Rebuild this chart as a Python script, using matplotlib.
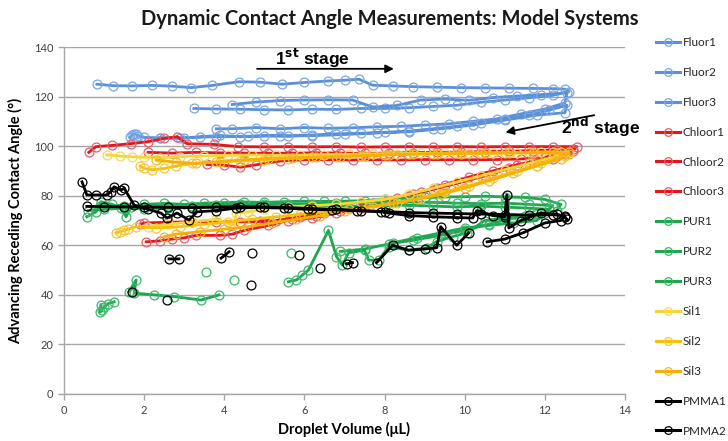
import numpy as np
import matplotlib
matplotlib.use("Agg")
import matplotlib.pyplot as plt
from matplotlib.lines import Line2D

nan = np.nan

# ---------------- data ----------------
fluor1_x = [0.82, 1.22, 1.7, 2.2, 2.7, 3.17, 3.7, 4.37, 4.9, 5.45, 6.0, 6.6, 7.0, 7.36, 7.7, 8.2, 8.7, 9.3, 9.9, 10.5, 11.1, 11.7, 12.2, 12.5,
            12.6, 12.2, 11.6, 11.0, 10.4, 9.8, 9.2, 8.6, 8.0, 7.4, 6.8, 6.2, 5.6, 5.0, 4.4, 3.8, 3.24]
fluor1_y = [125, 124.4, 124.3, 124.5, 124.2, 123.6, 124.5, 126, 125.8, 125, 125.7, 126.3, 126.6, 127, 124.6, 124.3, 124, 123.8, 123.6, 123.5, 123.4, 123.3, 123.2, 123,
            122, 120.5, 119.5, 118.6, 117.7, 116.5, 116, 115.5, 115.2, 115.2, 114.8, 114.9, 114.6, 114.7, 114.9, 115.0, 115.2]

fluor2_x = [4.2, 4.8, 5.4, 6.0, 6.6, 7.2, 7.7, 8.3, 8.9, 9.5, 10.1, 10.7, 11.3, 11.9, 12.55,
            12.5, 12.0, 11.4, 10.8, 10.2, 9.6, 9.0, 8.4, 7.8, 7.2, 6.6, 6.0, 5.4, 4.8, 4.2, 3.8]
fluor2_y = [116.8, 117.8, 118.4, 118.6, 118.7, 118.6, 115.8, 116.4, 118.6, 119, 118.5, 119.6, 120.2, 120.8, 121.5,
            117.4, 115, 113, 111, 110, 109, 108.5, 108, 107.8, 107.4, 107.2, 107.5, 107, 107.5, 107, 107]

fluor3_x = [1.65, 1.7, 1.75, 1.8, 1.85, 2.0, 2.4, 2.9, 3.4, 3.9, 4.4, 5.0, 5.6, 6.2, 6.8, 7.4, 8.0, 8.6, 9.2, 9.8, 10.4, 11.0, 11.6, 12.1, 12.55,
            12.5, 11.8, 11.0, 10.2, 9.4, 8.6, 7.8, 7.0, 6.2, 5.4, 4.6, 3.8, 3.0, 2.4]
fluor3_y = [103.5, 104.5, 105, 104.8, 104.2, 103.5, 103.4, 103.2, 103.8, 104.3, 103.8, 104.2, 104.0, 104.5, 105, 105.2, 105.6, 106, 107, 108, 109.5, 111, 112.5, 114.5, 116.5,
            113.5, 112.5, 110.5, 108.5, 107, 105.8, 105.3, 104.7, 104.2, 104.2, 104.0, 103.8, 103.4, 103.2]

chloor1_x = [0.62, 0.8, 1.2, 1.67, 2.1, 2.5, 2.82, 3.07, 3.74, 4.35, 5.0, 5.6, 6.2, 6.8, 7.4, 8.0, 8.6, 9.2, 9.8, 10.4, 11.0, 11.6, 12.2, 12.8,
             12.7, 12.2, 11.6, 11.0, 10.4, 9.8, 9.2, 8.6, 8.0, 7.4, 6.8, 6.2, 5.6, 5.0, 4.4, 3.8, 3.2, 2.6, 2.0, 1.9]
chloor1_y = [97.5, 99.8, 100.3, 101, 101.8, 103.1, 103.8, 101, 100.7, 99.8, 99.7, 99.8, 99.7, 99.8, 99.6, 99.7, 99.8, 99.7, 99.8, 99.7, 99.8, 99.8, 99.8, 99.8,
             98, 95, 93, 90.5, 88, 85, 82.5, 80, 77.5, 75, 73, 71, 70, 69.5, 69.5, 69.5, 69.5, 69.3, 69.0, 68.5]

chloor2_x = [3.57, 4.0, 4.4, 4.8, 5.4, 6.0, 6.6, 7.2, 7.8, 8.4, 9.0, 9.6, 10.2, 10.8, 11.4, 12.0, 12.55,
             12.3, 11.7, 11.1, 10.5, 9.9, 9.3, 8.7, 8.1, 7.5, 6.9, 6.3, 5.7, 5.1, 4.5, 4.2, 3.9, 3.3, 3.0, 2.7, 2.4, 2.05]
chloor2_y = [92.6, 92.3, 91.5, 92.5, 94, 94.5, 94.5, 94.4, 94.5, 94.4, 94.6, 94.5, 94.5, 94.6, 94.8, 95.5, 97.5,
             96, 93.5, 91, 88, 85.5, 83, 80.5, 78, 76, 74, 72, 70.5, 68, 66, 64.5, 64, 64, 63, 62.5, 61.8, 61.4]

chloor3_x = [2.1, 2.7, 3.3, 3.9, 4.5, 5.1, 5.7, 6.3, 6.9, 7.5, 8.1, 8.7, 9.3, 9.9, 10.5, 11.1, 11.7, 12.3, 12.7,
             12.5, 11.9, 11.3, 10.7, 10.1, 9.5, 8.9, 8.3, 7.7, 7.1, 6.5, 5.9, 5.3, 4.9]
chloor3_y = [97.5, 97.2, 97.5, 97.3, 97.2, 97.1, 97.2, 97.3, 97.2, 97.1, 97.2, 97.4, 97.5, 97.6, 97.8, 98, 98.2, 98.5, 98.8,
             97, 94.4, 92.5, 90, 87.5, 84.5, 81.5, 79, 77, 75, 73, 71.5, 70, 70]

pur1_x = [0.57, 0.8, 0.92, 1.2, 1.42, 1.55, 1.67, 2.0, 2.5, 3.0, 3.5, 4.0, 4.5, 5.0, 5.5, 6.0, 6.5, 7.0, 7.5, 8.0, 8.5, 9.0, 9.5, 10.0, 10.5, 11.0, 11.5, 12.0, 12.4,
          12.3, 11.8, 11.2, 10.6, 10.0, 9.4, 8.7, 8.1, 7.5, 6.9]
pur1_y = [71.5, 73.5, 77.6, 76.5, 74.9, 71.5, 75.5, 76.5, 76.9, 76.5, 77, 77.2, 77.5, 77.3, 77.6, 77.8, 77.7, 77.8, 78, 78.5, 79, 79.3, 79.5, 79.6, 79.8, 79.5, 79.3, 78.5, 76.5,
          74, 72.5, 71, 68.5, 66, 64, 62, 60.5, 58.5, 57.5]

pur2_x = [0.9, 1.5, 2.0, 2.6, 3.2, 3.8, 4.4, 5.0, 5.6, 6.2, 6.8, 7.4, 8.0, 8.6, 9.2, 9.8, 10.4, 11.0, 11.6, 12.2,
          12.0, 11.5, 11.0, 10.5, 10.05, 9.7, 9.3, 9.05, 8.6, 8.1, 7.85, 7.6, 7.5, 7.1, 6.95, 6.8, 6.6, 6.1, 5.95, 5.8, 5.6,
          nan, 5.66, nan, 3.55, nan, 4.24]
pur2_y = [76, 76, 75.5, 75.8, 76, 76.2, 76.5, 76.6, 76.5, 76.8, 77, 77.2, 77.4, 77.5, 77.3, 77, 76.8, 77, 76.5, 76,
          73, 72, 71, 70, 65, 63.5, 61.5, 59, 58, 59.4, 54, 54, 58, 57, 52, 55.4, 66, 50, 48, 46, 45.3,
          nan, 57, nan, 49.3, nan, 46]

pur3_x = [0.6, 1.0, 1.5, 2.0, 2.6, 3.2, 3.8, 4.4, 5.0, 5.6, 6.2, 6.8, 7.4, 8.0, 8.6, 9.2, 9.8, 10.4, 11.0, 11.6, 12.1,
          11.8, 11.2, 10.6, 10.0, 9.4, 8.8, 8.2, nan,
          3.87, 3.42, 2.75, 2.25, 1.75, 1.8, 1.62, nan, 1.25, 1.1, 1.0, 0.95, 0.9, 0.92]
pur3_y = [74, 74.5, 75, 74.8, 75, 75.3, 75.5, 75.2, 75.6, 75.4, 75.8, 76, 75.7, 76, 76.2, 75.8, 75.5, 75.8, 75.4, 75, 74.5,
          70, 69, 68, 67, 65, 63, 61, nan,
          40, 37.9, 39.3, 40, 40.7, 46, 41.3, nan, 37.2, 36.5, 35, 34, 33, 36]

sil1_x = [1.07, 1.4, 1.7, 2.0, 2.4, 2.9, 3.5, 4.1, 4.7, 5.3, 5.9, 6.5, 7.1, 7.7, 8.3, 8.9, 9.5, 10.1, 10.7, 11.3, 11.9, 12.4,
          12.2, 11.6, 11.0, 10.4, 9.8, 9.2, 8.6, 8.0, 7.4, 6.8, 6.2, 5.6, 5.0, 4.6, 4.3, 4.25, 3.8, 3.2, 2.6, 2.1]
sil1_y = [96.5, 96, 95.7, 95.5, 95.3, 95.8, 96, 96.3, 96.4, 96.3, 96.4, 96.6, 96.7, 96.9, 97, 97.1, 97.2, 97.3, 97.2, 97.4, 97.6, 97.5,
          95.5, 93, 90.5, 88, 85.5, 83, 80.5, 78.5, 77.5, 76.5, 76, 75.5, 74.5, 73.5, 73, 68, 70.5, 69.5, 68.5, 67.5]

sil2_x = [1.9, 2.0, 2.2, 2.5, 2.8, 3.2, 3.8, 4.4, 5.0, 5.6, 6.2, 6.8, 7.4, 8.0, 8.6, 9.2, 9.8, 10.4, 11.0, 11.6, 12.2, 12.6,
          12.5, 11.9, 11.3, 10.7, 10.1, 9.5, 8.9, 8.3, 7.7, 7.1, 6.5, 5.9, 5.3, 4.7, 4.1, 3.5, 2.9, 2.3, 1.8, 1.6, 1.5, 1.4, 1.3]
sil2_y = [92, 91, 90.5, 91, 92, 93, 93.6, 94, 94.5, 95, 95.5, 95.8, 96, 96.5, 96.8, 97, 97.2, 97.3, 97.4, 97.5, 97.6, 97.5,
          96, 93, 90, 87, 84, 81.5, 79, 77, 75.5, 74.5, 73.5, 72.5, 71.5, 70.5, 69.5, 68.5, 67.5, 67, 67.5, 66.5, 66, 65.5, 65]

sil3_x = [2.3, 2.8, 3.3, 3.9, 4.5, 5.1, 5.7, 6.3, 6.9, 7.5, 8.1, 8.7, 9.3, 9.9, 10.5, 11.1, 11.7, 12.3, 12.6,
          12.4, 11.8, 11.2, 10.6, 10.0, 9.4, 8.8, 8.2, 7.6, 7.0, 6.4, 5.8, 5.2, 4.6, 4.0, 3.4, 2.8, 2.5]
sil3_y = [94.4, 93.5, 93, 93.8, 94.5, 95, 95.3, 95.5, 95.8, 96.2, 96.5, 96.7, 96.9, 97, 97.1, 97.2, 97.3, 97.2, 97,
          95, 92, 89, 86, 83, 80.5, 78.5, 77, 75.5, 74, 72, 70.5, 69, 67.5, 66.5, 65.5, 64.5, 63.5]

pmma1_x = [0.45, 0.57, 0.8, 1.07, 1.17, 1.25, 1.42, 1.5, 1.75, 2.1, 2.42, 2.57, 2.82, 3.12, 3.32, 3.8, 4.3, 4.9, 5.5, 6.1, 6.7, 7.3, 7.9, 8.1,
           8.6, 9.2, 9.8, 10.2, 10.3, 10.7, 11.0, 11.05, 11.1, 11.4, 11.9, 12.3, 12.5, 12.55]
pmma1_y = [85.6, 80.3, 80.3, 80.3, 81.6, 83.6, 82.3, 83, 76.2, 74.5, 73, 71, 73, 70.2, 73.5, 74, 75, 75.3, 75, 74.5, 74.3, 74, 73.5, 73,
           72, 71.5, 71.2, 71, 74, 72, 71.5, 80.3, 67, 70, 73, 72.5, 71.5, 70.5]

pmma2_x = [0.57, 1.0, 1.5, 2.0, 2.6, 3.2, 3.8, 4.4, 5.0, 5.6, 6.2, 6.8, 7.4, 8.0, 8.6, 9.2, 9.8, 10.4, 11.0, 11.6, 12.2, 12.5,
           12.4, 12.0, 11.45, 11.0, 10.56, nan, 10.1, 9.8, 9.4, 9.3, 9.0, 8.6, 8.2, 7.8, nan, 7.2, 7.05, nan, 6.4, nan, 5.87,
           nan, 4.7, nan, 4.67, nan, 4.12, 3.92, nan, 2.87, 2.62, nan, 2.57, nan, 1.7]
pmma2_y = [75.7, 75.6, 75.5, 75.5, 75.3, 75.2, 75.4, 75.6, 75.5, 75.2, 74.8, 74.5, 74, 73.6, 73.2, 73, 72.8, 72.6, 72.4, 72.2, 72.3, 72,
           70, 69, 65, 62.5, 61.4, nan, 65, 60, 67.5, 59, 58.5, 58, 60, 53, nan, 53, 52.5, nan, 50.8, nan, 56,
           nan, 57, nan, 44, nan, 57.4, 54.8, nan, 54.5, 54.5, nan, 37.9, nan, 41.3]

series_names = ["Fluor1", "Fluor2", "Fluor3", "Chloor1", "Chloor2", "Chloor3",
                "PUR1", "PUR2", "PUR3", "Sil1", "Sil2", "Sil3", "PMMA1", "PMMA2"]
series_x = [fluor1_x, fluor2_x, fluor3_x, chloor1_x, chloor2_x, chloor3_x,
            pur1_x, pur2_x, pur3_x, sil1_x, sil2_x, sil3_x, pmma1_x, pmma2_x]
series_y = [fluor1_y, fluor2_y, fluor3_y, chloor1_y, chloor2_y, chloor3_y,
            pur1_y, pur2_y, pur3_y, sil1_y, sil2_y, sil3_y, pmma1_y, pmma2_y]

x_ticks = [0, 2, 4, 6, 8, 10, 12, 14]
y_ticks = [0, 20, 40, 60, 80, 100, 120, 140]

# ---------------- styles ----------------
blue = "#5b8fd6"
red = "#e8141c"
green = "#1fa650"
colors = [blue, blue, blue, red, red, red, green, green, green,
          "#f6d632", "#f8c000", "#f5b000", "#000000", "#000000"]
mec = ["#7aa6e2", "#7aa6e2", "#7aa6e2", "#e0606a", "#e0606a", "#e0606a",
       "#3cb86a", "#3cb86a", "#3cb86a", "#f3d860", "#f2c840", "#f0b830", "#000000", "#000000"]

font = "Lato"
plt.rcParams["font.family"] = [font, "DejaVu Sans"]

fig = plt.figure(figsize=(7.28, 4.41), dpi=100)
ax = fig.add_axes([64 / 728, 1 - 394 / 441, (625 - 64) / 728, (394 - 47) / 441])

for i in range(len(series_names)):
    ax.plot(series_x[i], series_y[i], color=colors[i], lw=2.0, marker="o", ms=6.4,
            mfc="none", mec=mec[i], mew=0.9, label=series_names[i], zorder=3 + i * 0.01)

ax.set_xlim(0, 14)
ax.set_ylim(0, 140)
ax.set_xticks(x_ticks)
ax.set_yticks(y_ticks)
ax.grid(axis="y", color="#a6a6a6", lw=1.0, zorder=0)
ax.set_axisbelow(True)
for s in ["top", "right"]:
    ax.spines[s].set_visible(False)
for s in ["left", "bottom"]:
    ax.spines[s].set_color("#a6a6a6")
    ax.spines[s].set_linewidth(1.0)
ax.tick_params(axis="both", colors="#a6a6a6", labelcolor="#404040", labelsize=8, length=4, width=1)
ax.tick_params(axis="x", pad=4)

ax.set_xlabel("Droplet Volume (μL)", fontsize=10.5, fontweight="bold", labelpad=4)
ax.set_ylabel("Advancing Receding Contact Angle (°)", fontsize=10.5, fontweight="bold", labelpad=8)
fig.text(390 / 728, 1 - 19 / 441, "Dynamic Contact Angle Measurements: Model Systems",
         ha="center", va="center", fontsize=14.5, fontweight="bold", color="#1a1a1a")

# stage annotations
ax.text(6.2, 135.5, r"1$^{\mathbf{st}}$ stage", ha="center", va="center", fontsize=12.5,
        fontweight="bold", family="Liberation Sans", zorder=10)
ax.annotate("", xy=(8.3, 131.2), xytext=(4.75, 131.2),
            arrowprops=dict(arrowstyle="-|>", color="black", lw=1.3, mutation_scale=12), zorder=10)
ax.text(13.38, 107.7, r"2$^{\mathbf{nd}}$ stage", ha="center", va="center", fontsize=12.5,
        fontweight="bold", family="Liberation Sans", zorder=10, clip_on=False)
ax.annotate("", xy=(10.95, 105.4), xytext=(13.3, 112.7),
            arrowprops=dict(arrowstyle="-|>", color="black", lw=1.3, mutation_scale=12), zorder=10,
            annotation_clip=False)

# legend
handles = [Line2D([], [], color=colors[i], lw=2.2, marker="o", ms=5.5, mfc="none",
                  mec=mec[i], mew=0.9) for i in range(len(series_names))]
fig.legend(handles, series_names, loc="upper left", bbox_to_anchor=(656 / 728, 1 - 37 / 441),
           frameon=False, fontsize=8.5, labelspacing=1.6, handlelength=2.0, handletextpad=0.25,
           borderaxespad=0, borderpad=0, labelcolor="#262626")

fig.savefig("out.png", dpi=100)
